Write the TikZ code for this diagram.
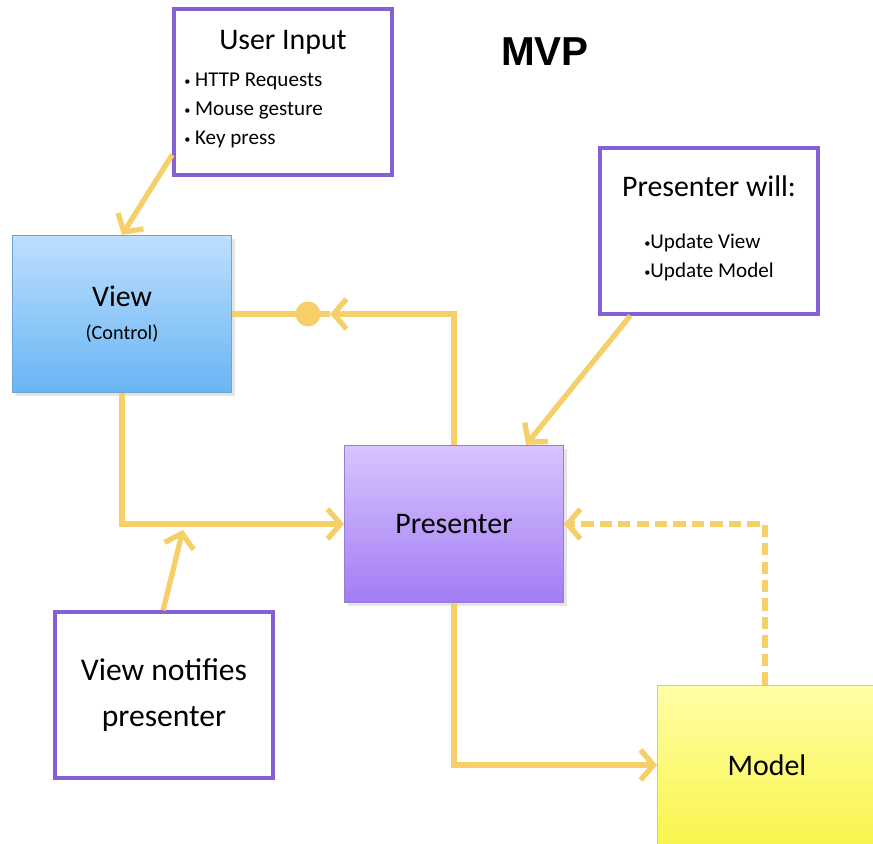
\documentclass[tikz,border=0pt]{standalone}
\usepackage{fontspec}
\setmainfont{Carlito}
\newfontfamily\titlefont{Liberation Sans}
\usepackage{tikz}
\usetikzlibrary{arrows.meta,positioning,shadows}
\definecolor{notepurple}{HTML}{8560D4}
\definecolor{linkyellow}{HTML}{F6CF68}
\definecolor{viewtop}{HTML}{BCE0FD}
\definecolor{viewbot}{HTML}{6AB4F4}
\definecolor{prestop}{HTML}{D8C4FD}
\definecolor{presbot}{HTML}{A27CF5}
\definecolor{modeltop}{HTML}{FFFFA6}
\definecolor{modelbot}{HTML}{F9F44C}
\newcommand{\pt}{{\scriptsize\raisebox{0.25ex}{•}}}

\begin{document}
\begin{tikzpicture}[x=0.02cm,y=-0.02cm,
  note/.style={draw=notepurple,fill=white,line width=2pt,minimum width=4.36cm,minimum height=3.32cm,align=center,font=\fontsize{17}{20}\selectfont},
  part/.style={draw=#1!70!gray,line width=0.5pt,minimum width=4.38cm,minimum height=3.15cm,align=center,font=\fontsize{17}{20}\selectfont,drop shadow={opacity=0.2,shadow xshift=2pt,shadow yshift=-2pt}},
  link/.style={line width=3pt,linkyellow},
  arr/.style={link,-{Straight Barb[length=2.6mm,width=6mm]}},
  dot/.style={circle,fill=linkyellow,inner sep=0pt,minimum size=0.5cm}]
\useasboundingbox[fill=white] (0,0) rectangle (873,843);
\node[font=\titlefont\bfseries\fontsize{23}{26}\selectfont] (mvp) at (545,52) {MVP};
% notes
\node[note] (inp) at (283,92) {User Input\\[6pt]
  \makebox[3.95cm][l]{\fontsize{12}{16.5}\selectfont\begin{tabular}{@{}l@{}}\pt\ HTTP Requests\\\pt\ Mouse gesture\\\pt\ Key press\end{tabular}}};
\node[note] (will) at (709,231) {Presenter will:\\[18pt]
  {\fontsize{12}{16.5}\selectfont\begin{tabular}{@{}l@{}}\pt Update View\\\pt Update Model\end{tabular}}};
\node[note,font=\fontsize{18}{26}\selectfont] (notify) at (164,695) {View notifies\\presenter};
% parts
\node[part=viewbot,top color=viewtop,bottom color=viewbot] (view) at (122,314) {View\\[-1pt]{\fontsize{11.5}{13}\selectfont (Control)}};
\node[part=presbot,top color=prestop,bottom color=presbot] (pres) at (454,524) {Presenter};
\node[part=modelbot,top color=modeltop,bottom color=modelbot,minimum height=3.2cm] (model) at (767,765) {Model};
% connectors
\coordinate (tip) at (330,314);
\coordinate (hit) at (183,530);
\draw[arr] ([yshift=0.44cm]inp.south west) -- (view.north);
\draw[arr] (pres.north) |- (tip);
\draw[link] (tip) -- (view.east);
\node[dot] (knob) at (308,314) {};
\draw[arr] (view.south) |- (pres.west);
\draw[arr] ([xshift=-0.02cm]notify.north) -- (hit);
\draw[arr] ([xshift=0.64cm]will.south west) -- ([xshift=3.64cm]pres.north west);
\draw[arr] (pres.south) |- (model.west);
\draw[arr,dash pattern=on 7pt off 3.5pt] ([xshift=-0.04cm]model.north) |- (pres.east);
\end{tikzpicture}
\end{document}
